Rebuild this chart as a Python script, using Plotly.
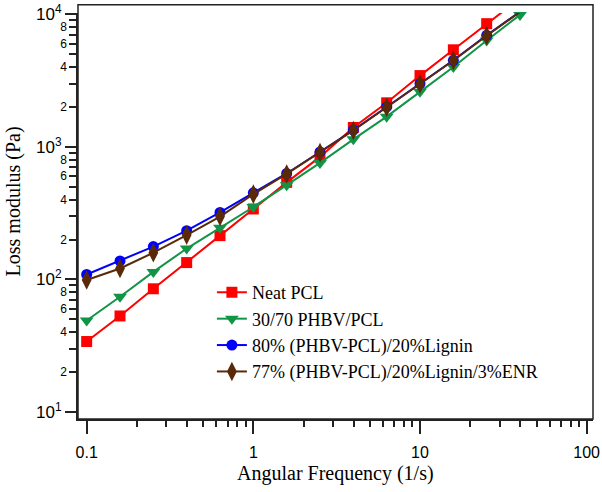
import plotly.graph_objects as go

freq = [0.1, 0.1585, 0.2512, 0.3981, 0.631, 1.0, 1.585, 2.512, 3.981, 6.31, 10.0, 15.85, 25.12, 39.81]
neat_pcl = [34, 53, 85, 134, 214, 340, 540, 840, 1400, 2150, 3450, 5400, 8500, 13200]
phbv_pcl = [49, 74, 114, 171, 245, 352, 514, 757, 1140, 1690, 2600, 4000, 6350, 9900]
lignin = [109, 138, 177, 233, 320, 450, 630, 915, 1340, 2000, 3000, 4500, 6950, 10450]
lignin_enr = [99, 121, 159, 216, 298, 440, 625, 905, 1330, 1990, 2980, 4480, 6900, 10450]

names = ["Neat PCL", "30/70 PHBV/PCL", "80% (PHBV-PCL)/20%Lignin",
         "77% (PHBV-PCL)/20%Lignin/3%ENR"]

x_major = [0.1, 1, 10, 100]
x_major_text = ["0.1", "1", "10", "100"]
y_decades = [10, 100, 1000, 10000]
y_decade_text = ["10<sup>1</sup>", "10<sup>2</sup>", "10<sup>3</sup>", "10<sup>4</sup>"]
y_minor_labeled = [2, 4, 6, 8]

x_minor = [m * d for d in (0.1, 1, 10) for m in range(2, 10)]
y_lab_vals = [m * d for d in (10, 100, 1000) for m in y_minor_labeled]
y_lab_text = [str(m) for d in (10, 100, 1000) for m in y_minor_labeled]
y_unlab = [m * d for d in (10, 100, 1000) for m in (3, 5, 7, 9)]

series = [neat_pcl, phbv_pcl, lignin, lignin_enr]
colors = ["#FF0000", "#129447", "#0000FF", "#5A2A08"]
symbols = ["square", "triangle-down", "circle", "diamond-tall"]
sizes = [11, 12, 11, 14]

fig = go.Figure()
for yv, nm, c, s, sz in zip(series, names, colors, symbols, sizes):
    fig.add_trace(go.Scatter(
        x=freq, y=yv, name=nm, mode="lines+markers",
        line=dict(color=c, width=2),
        marker=dict(symbol=s, size=sz, color=c, line=dict(width=0)),
        cliponaxis=False,
    ))

fig.add_trace(go.Scatter(x=[], y=[], yaxis="y2", showlegend=False))

serif = "Liberation Serif, Times New Roman, serif"
sans = "Liberation Sans, Arial, sans-serif"

fig.update_layout(
    width=602, height=492,
    margin=dict(l=78, r=9, t=13, b=73, autoexpand=False),
    paper_bgcolor="white", plot_bgcolor="white",
    showlegend=True,
    legend=dict(x=0.26, y=0.357, xanchor="left", yanchor="top",
                font=dict(family=serif, size=18, color="black"),
                bgcolor="rgba(0,0,0,0)", tracegroupgap=0, itemwidth=30),
    xaxis=dict(type="log", range=[-1.052, 2.038], automargin=False,
               tickvals=x_major, ticktext=x_major_text,
               ticks="outside", ticklen=13, tickwidth=1.5, tickcolor="#222",
               showline=True, linecolor="#222", linewidth=1.5,
               showgrid=False, zeroline=False, ticklabelstandoff=5,
               tickfont=dict(family=sans, size=16, color="black"),
               minor=dict(tickvals=x_minor, ticks="outside", ticklen=6,
                          tickwidth=1.5, tickcolor="#222", showgrid=False)),
    yaxis=dict(type="log", range=[0.947, 4.01], automargin=False,
               tickvals=y_lab_vals, ticktext=y_lab_text,
               ticks="outside", ticklen=7, tickwidth=1.5, tickcolor="#222",
               showline=True, linecolor="#222", linewidth=1.5,
               showgrid=False, zeroline=False,
               tickfont=dict(family=sans, size=12, color="black"),
               minor=dict(tickvals=y_unlab, ticks="outside", ticklen=7,
                          tickwidth=1.5, tickcolor="#222", showgrid=False)),
    yaxis2=dict(type="log", range=[0.947, 4.01], overlaying="y", anchor="x",
                side="left", automargin=False,
                tickvals=y_decades, ticktext=y_decade_text,
                ticks="outside", ticklen=12, tickwidth=1.5, tickcolor="#222",
                showline=False, showgrid=False, zeroline=False,
                tickfont=dict(family=sans, size=17, color="black")),
    shapes=[dict(type="rect", xref="paper", yref="paper",
                 x0=0, x1=1, y0=0, y1=1.0204,
                 line=dict(color="#222", width=1.5))],
    annotations=[
        dict(text="Angular Frequency (1/s)", xref="paper", yref="paper",
             x=0.5, y=-0.135, xanchor="center", yanchor="middle",
             showarrow=False, font=dict(family=serif, size=20, color="black")),
        dict(text="Loss modulus (Pa)", xref="paper", yref="paper",
             x=-0.125, y=0.535, xanchor="center", yanchor="middle",
             textangle=-90, showarrow=False,
             font=dict(family=serif, size=20, color="black")),
    ],
)

fig.write_html("out.html", config={"displayModeBar": False},
               post_script="document.body.style.margin='0';document.body.style.overflow='hidden';")
